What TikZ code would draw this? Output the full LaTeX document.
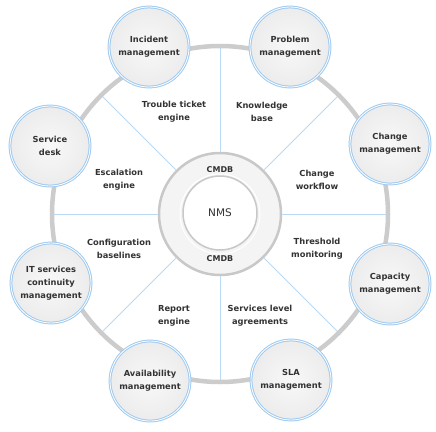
\documentclass[tikz,border=0pt]{standalone}
\usepackage{fontspec}
\setmainfont{DejaVu Sans}
\definecolor{ringgray}{RGB}{204,204,204}
\definecolor{cmdbgray}{RGB}{200,200,200}
\definecolor{cmdbfill}{RGB}{244,244,244}
\definecolor{bubbleblue}{RGB}{160,202,240}
\definecolor{bubblegray}{RGB}{236,236,236}
\definecolor{bubblecore}{RGB}{248,248,248}
\definecolor{spokeblue}{RGB}{184,218,245}
\definecolor{textgray}{RGB}{51,51,51}
\usepackage{tikz}

\begin{document}
\begin{tikzpicture}[x=1pt, y=-1pt,
    bubble/.style={circle, minimum size=80pt, inner sep=0pt, draw=bubbleblue,
      line width=1pt, double=white, double distance=0.8pt,
      inner color=bubblecore, outer color=bubblegray, text=textgray, align=center,
      font=\fontsize{8.3}{13}\selectfont\bfseries},
    spokelabel/.style={text=textgray, align=center,
      font=\fontsize{8.3}{13}\selectfont\bfseries},
    cmdblabel/.style={text=textgray, font=\fontsize{8}{9}\selectfont\bfseries},
    spoke/.style={spokeblue, line width=0.8pt, shorten >=2.25pt}]
      % Canvas
      \useasboundingbox (0,0) rectangle (436,431);
      \fill[white] (0,0) rectangle (436,431);
      % Outer gray ring
      \node[circle, draw=ringgray, line width=4.5pt, minimum size=336pt,
        inner sep=0pt, outer sep=0pt] (ring) at (220,214) {};
      % CMDB band round the core
      \node[circle, draw=cmdbgray, line width=2.5pt, fill=cmdbfill,
        minimum size=122pt, inner sep=0pt] (cmdb) at (220,214) {};
      \draw[white, line width=1pt] (cmdb.center) circle (40);
      % Spokes
      \foreach \a in {0,45,...,315}
        \draw[spoke] (cmdb.\a) -- (ring.\a);
      % NMS core
      \node[circle, draw=cmdbgray, line width=1.5pt, fill=white, minimum size=74pt,
        inner sep=0pt, text=textgray, font=\fontsize{10.5}{12}\selectfont] (nms) at (220,213) {NMS};
      \node[cmdblabel] (cmdbtop) at (220,170) {CMDB};
      \node[cmdblabel] (cmdbbottom) at (220,259) {CMDB};
      % Processes on the ring
      \node[bubble] (incident) at (149,47) {Incident\\management};
      \node[bubble] (problem) at (290,47) {Problem\\management};
      \node[bubble] (change) at (390,144) {Change\\management};
      \node[bubble] (capacity) at (390,284) {Capacity\\management};
      \node[bubble] (sla) at (291,380) {SLA\\management};
      \node[bubble] (availability) at (150,381) {Availability\\management};
      \node[bubble] (continuity) at (51,283) {IT services\\continuity\\management};
      \node[bubble] (servicedesk) at (50,146) {Service\\desk};
      % Tools between the spokes
      \node[spokelabel] (trouble) at (174,112) {Trouble ticket\\engine};
      \node[spokelabel] (knowledge) at (262,112) {Knowledge\\base};
      \node[spokelabel] (workflow) at (317,180) {Change\\workflow};
      \node[spokelabel] (threshold) at (317,249) {Threshold\\monitoring};
      \node[spokelabel] (agreements) at (260,316) {Services level\\agreements};
      \node[spokelabel] (report) at (174,316) {Report\\engine};
      \node[spokelabel] (baselines) at (119,249) {Configuration\\baselines};
      \node[spokelabel] (escalation) at (119,180) {Escalation\\engine};
    \end{tikzpicture}
\end{document}
